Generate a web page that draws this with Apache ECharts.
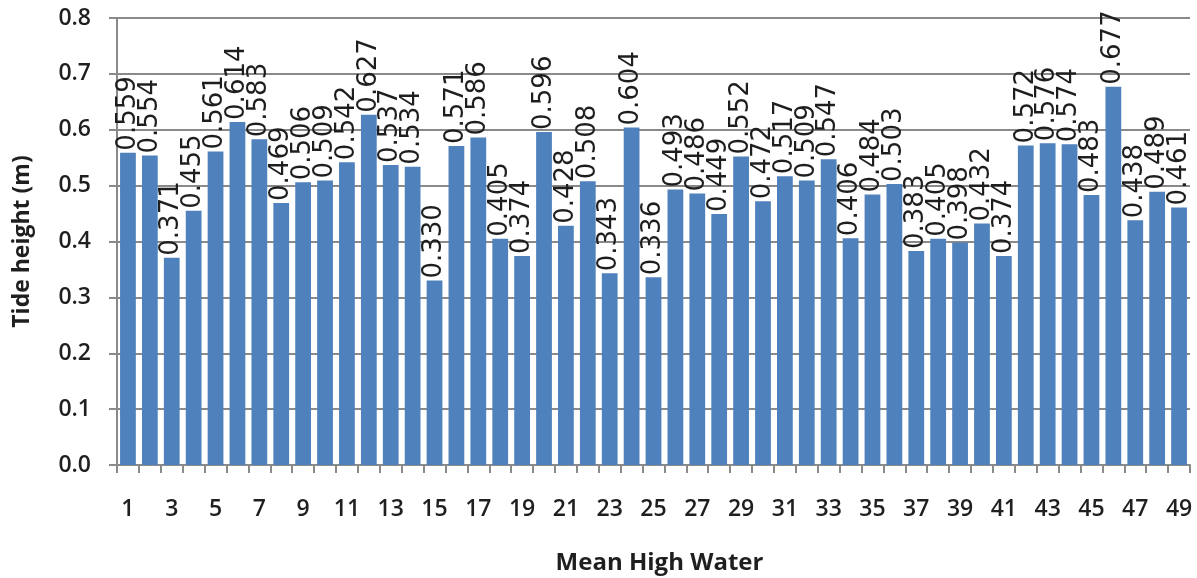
<!DOCTYPE html>
<html>
<head>
<meta charset="utf-8">
<title>Tide height – Mean High Water</title>
<script src="https://cdn.jsdelivr.net/npm/echarts@6/dist/echarts.min.js"></script>
<style>
  html, body { margin: 0; padding: 0; background: #ffffff; }
  #chart { width: 1197px; height: 578px; }
</style>
</head>
<body>
<div id="chart"></div>
<script>
// Station numbers along the x axis
const stations = [
  1, 2, 3, 4, 5, 6, 7, 8, 9, 10,
  11, 12, 13, 14, 15, 16, 17, 18, 19, 20,
  21, 22, 23, 24, 25, 26, 27, 28, 29, 30,
  31, 32, 33, 34, 35, 36, 37, 38, 39, 40,
  41, 42, 43, 44, 45, 46, 47, 48, 49
];

// Mean high water tide height (m) per station
const tideHeight = [
  0.559, 0.554, 0.371, 0.455, 0.561, 0.614, 0.583, 0.469, 0.506, 0.509,
  0.542, 0.627, 0.537, 0.534, 0.330, 0.571, 0.586, 0.405, 0.374, 0.596,
  0.428, 0.508, 0.343, 0.604, 0.336, 0.493, 0.486, 0.449, 0.552, 0.472,
  0.517, 0.509, 0.547, 0.406, 0.484, 0.503, 0.383, 0.405, 0.398, 0.432,
  0.374, 0.572, 0.576, 0.574, 0.483, 0.677, 0.438, 0.489, 0.461
];

// Value axis range and step
const yMin = 0;
const yMax = 0.8;
const yStep = 0.1;

const axisGray = '#8a8a8a';
const textDark = '#1f1f1f';

const chart = echarts.init(document.getElementById('chart'), null, { renderer: 'canvas' });

chart.setOption({
  animation: false,
  backgroundColor: '#ffffff',
  grid: { left: 117, right: 7, top: 18, bottom: 113, outerBoundsMode: 'none' },
  xAxis: {
    type: 'category',
    data: stations.map(String),
    name: 'Mean High Water',
    nameLocation: 'middle',
    nameGap: 86,
    nameTextStyle: {
      fontFamily: 'Open Sans', fontWeight: 'bold', fontSize: 24, color: textDark,
      padding: [0, 0, 0, 12]
    },
    axisLine: { lineStyle: { color: axisGray, width: 2 } },
    axisTick: { show: true, interval: 0, length: 8, lineStyle: { color: axisGray, width: 2 } },
    axisLabel: {
      interval: 1, margin: 33,
      fontFamily: 'Open Sans', fontWeight: 600, fontSize: 23, color: textDark
    },
    splitLine: { show: false }
  },
  yAxis: {
    type: 'value',
    min: yMin, max: yMax, interval: yStep,
    name: 'Tide height (m)',
    nameLocation: 'middle',
    nameGap: 83,
    nameTextStyle: {
      fontFamily: 'Open Sans', fontWeight: 'bold', fontSize: 23, color: textDark
    },
    axisLine: { show: true, lineStyle: { color: axisGray, width: 2 } },
    axisTick: { show: true, length: 8, lineStyle: { color: axisGray, width: 2 } },
    axisLabel: {
      margin: 26,
      fontFamily: 'Open Sans', fontWeight: 600, fontSize: 23, color: textDark,
      formatter: v => v.toFixed(1)
    },
    splitLine: { show: true, lineStyle: { color: axisGray, width: 2 } }
  },
  series: [{
    type: 'bar',
    data: tideHeight,
    barCategoryGap: '28%',
    itemStyle: { color: '#4f81bd' },
    label: {
      show: true,
      position: 'top',
      distance: 2,
      rotate: 90,
      align: 'left',
      verticalAlign: 'middle',
      fontFamily: 'DejaVu Sans',
      fontSize: 26,
      color: '#1e1e1e',
      formatter: p => p.value.toFixed(3)
    }
  }]
});
</script>
</body>
</html>
